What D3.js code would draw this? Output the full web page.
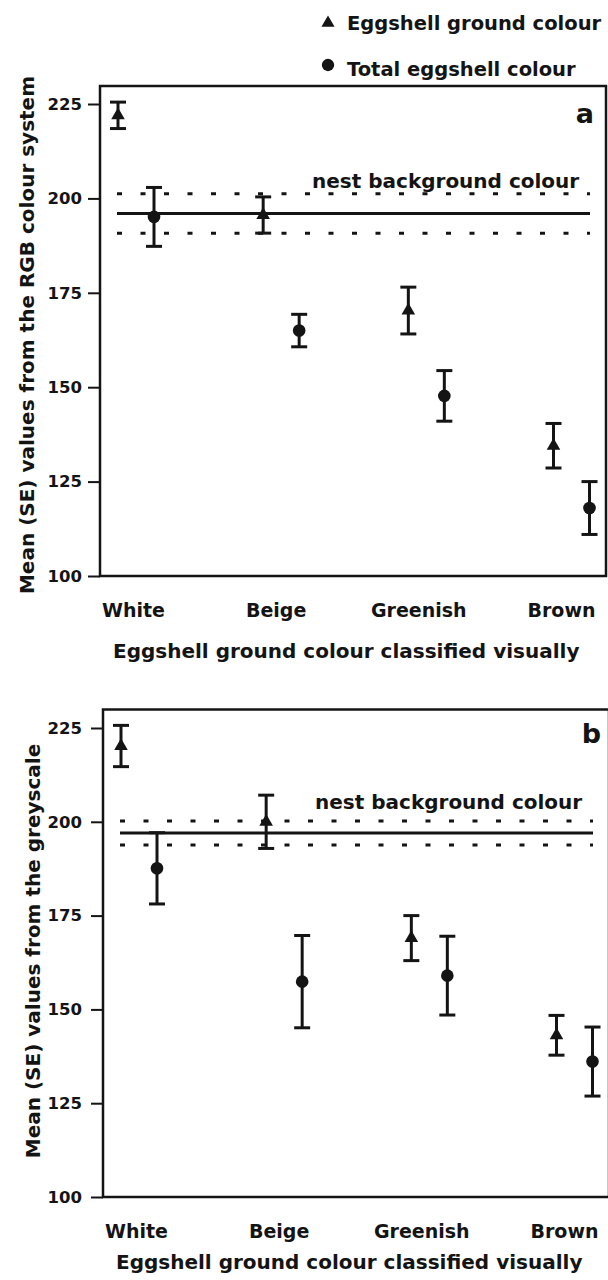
<!DOCTYPE html>
<html>
<head>
<meta charset="utf-8">
<script src="https://cdn.jsdelivr.net/npm/d3@7"></script>
<style>
  body { margin: 0; background: #fff; }
  svg { display: block; font-family: "DejaVu Sans", sans-serif; font-weight: bold; }
</style>
</head>
<body>
<svg id="chart" width="608" height="1280"></svg>
<script>
// categories on the x axis and the two series
const categories = ["White", "Beige", "Greenish", "Brown"];
const seriesKeys = ["ground", "total"];
const legendLabels = ["Eggshell ground colour", "Total eggshell colour"];
const yTicks = [100, 125, 150, 175, 200, 225];

// panel a : RGB colour system
const rgbGroundMean = [222.0, 195.6, 170.3, 134.5];
const rgbGroundSE   = [3.5, 4.8, 6.2, 5.9];
const rgbTotalMean  = [195.1, 165.0, 147.7, 118.0];
const rgbTotalSE    = [7.8, 4.3, 6.7, 7.0];
const rgbNestMean = 196.0;
const rgbNestSE   = 5.2;

// panel b : greyscale
const greyGroundMean = [220.2, 200.0, 169.0, 143.1];
const greyGroundSE   = [5.5, 7.1, 6.0, 5.3];
const greyTotalMean  = [187.6, 157.4, 159.0, 136.1];
const greyTotalSE    = [9.5, 12.3, 10.5, 9.2];
const greyNestMean = 197.0;
const greyNestSE   = 3.2;

const ink = "#141414";
const svg = d3.select("#chart");

// legend at the top right
const legend = svg.append("g").attr("class", "legend");
legend.selectAll("path").data(seriesKeys).enter().append("path")
  .attr("d", k => d3.symbol().type(k === "ground" ? d3.symbolTriangle : d3.symbolCircle)
                             .size(k === "ground" ? 75 : 120)())
  .attr("transform", (k, i) => "translate(328," + (i === 0 ? 23 : 65) + ")")
  .attr("fill", ink);
legend.selectAll("text").data(legendLabels).enter().append("text")
  .attr("x", 347)
  .attr("y", (d, i) => i === 0 ? 30 : 76)
  .style("font-size", "19.5px")
  .attr("fill", ink)
  .text(d => d);

function drawPanel(p) {
  let g = svg.append("g").attr("class", "panel-" + p.letter);

  let y = d3.scaleLinear().domain([100, 225]).range([p.bottom, p.y225]);
  // point positions of the categories, and the two series side by side
  let x = d3.scalePoint().domain(categories).range([p.left + 36, p.left + 471.5]);
  let offset = d3.scalePoint().domain(seriesKeys).range([-18, 18]);
  // category labels sit a little left of the markers
  let xLabel = d3.scalePoint().domain(categories).range([p.left + 33, p.left + 461]);

  let rows = [];
  categories.forEach(function(c, i) {
    rows.push({cat: c, key: "ground", mean: p.groundMean[i], se: p.groundSE[i]});
    rows.push({cat: c, key: "total",  mean: p.totalMean[i],  se: p.totalSE[i]});
  });

  // frame
  g.append("rect")
    .attr("x", p.left).attr("y", p.top)
    .attr("width", p.width).attr("height", p.bottom - p.top)
    .attr("fill", "none").attr("stroke", ink).attr("stroke-width", 2.5);

  // y axis
  let yAxis = g.append("g")
    .attr("transform", "translate(" + p.left + ",0)")
    .call(d3.axisLeft(y).tickValues(yTicks).tickSize(12).tickPadding(p.tickPad));
  yAxis.select(".domain").remove();
  yAxis.selectAll(".tick line").attr("stroke", ink).attr("stroke-width", 2);
  yAxis.selectAll(".tick text")
    .style("font-size", "16.5px").style("font-family", "'DejaVu Sans'").style("font-weight", "bold")
    .attr("fill", ink);

  // x axis labels
  let xAxis = g.append("g")
    .attr("transform", "translate(0," + p.bottom + ")")
    .call(d3.axisBottom(xLabel).tickSize(0).tickPadding(28));
  xAxis.select(".domain").remove();
  xAxis.selectAll(".tick text")
    .style("font-size", "19px").style("font-family", "'DejaVu Sans'").style("font-weight", "bold")
    .attr("fill", ink);

  g.append("text")
    .attr("x", p.left + p.xTitleShift)
    .attr("y", p.xTitleY)
    .style("font-size", "20px")
    .attr("fill", ink)
    .text("Eggshell ground colour classified visually");

  g.append("text")
    .attr("transform", "translate(" + p.yTitleX + "," + p.yTitleMid + ") rotate(-90)")
    .attr("text-anchor", "middle")
    .style("font-size", "20px")
    .attr("fill", ink)
    .text(p.yTitle);

  // panel letter
  g.append("text")
    .attr("x", p.letterX).attr("y", p.letterY)
    .attr("text-anchor", "end")
    .style("font-size", "27px")
    .attr("fill", ink)
    .text(p.letter);

  // nest background colour: mean (solid) and +/- SE (dotted)
  let nx0 = p.left + 17, nx1 = p.left + 490;
  g.append("line")
    .attr("x1", nx0).attr("x2", nx1)
    .attr("y1", y(p.nestMean)).attr("y2", y(p.nestMean))
    .attr("stroke", ink).attr("stroke-width", 3);
  g.selectAll(".nest-se").data([p.nestMean + p.nestSE, p.nestMean - p.nestSE])
    .enter().append("line")
    .attr("class", "nest-se")
    .attr("x1", nx0).attr("x2", nx1)
    .attr("y1", d => y(d)).attr("y2", d => y(d))
    .attr("stroke", ink).attr("stroke-width", 3)
    .attr("stroke-dasharray", "5,18.5");
  g.append("text")
    .attr("x", p.left + p.nestLabelShift)
    .attr("y", y(p.nestMean + p.nestSE) - p.nestLabelGap)
    .style("font-size", "20px")
    .attr("fill", ink)
    .text("nest background colour");

  // error bars
  let bars = g.selectAll(".err").data(rows).enter().append("g").attr("class", "err")
    .attr("stroke", ink).attr("stroke-width", 3);
  bars.append("line")
    .attr("x1", d => x(d.cat) + offset(d.key)).attr("x2", d => x(d.cat) + offset(d.key))
    .attr("y1", d => y(d.mean - d.se)).attr("y2", d => y(d.mean + d.se));
  bars.append("line")
    .attr("x1", d => x(d.cat) + offset(d.key) - 8).attr("x2", d => x(d.cat) + offset(d.key) + 8)
    .attr("y1", d => y(d.mean + d.se)).attr("y2", d => y(d.mean + d.se));
  bars.append("line")
    .attr("x1", d => x(d.cat) + offset(d.key) - 8).attr("x2", d => x(d.cat) + offset(d.key) + 8)
    .attr("y1", d => y(d.mean - d.se)).attr("y2", d => y(d.mean - d.se));

  // means
  g.selectAll(".mean").data(rows).enter().append("path")
    .attr("class", "mean")
    .attr("d", d => d3.symbol().type(d.key === "ground" ? d3.symbolTriangle : d3.symbolCircle)
                               .size(d.key === "ground" ? 80 : 125)())
    .attr("transform", d => "translate(" + (x(d.cat) + offset(d.key)) + "," + y(d.mean) + ")")
    .attr("fill", ink);
}

drawPanel({
  letter: "a", left: 100, width: 506, top: 86, bottom: 576, y225: 104, tickPad: 6,
  groundMean: rgbGroundMean, groundSE: rgbGroundSE,
  totalMean: rgbTotalMean, totalSE: rgbTotalSE,
  nestMean: rgbNestMean, nestSE: rgbNestSE,
  nestLabelShift: 212, nestLabelGap: 6,
  xTitleShift: 13, xTitleY: 658,
  yTitle: "Mean (SE) values from the RGB colour system", yTitleX: 34, yTitleMid: 335,
  letterX: 594, letterY: 123
});

drawPanel({
  letter: "b", left: 103, width: 506, top: 709.5, bottom: 1197, y225: 728, tickPad: 9,
  groundMean: greyGroundMean, groundSE: greyGroundSE,
  totalMean: greyTotalMean, totalSE: greyTotalSE,
  nestMean: greyNestMean, nestSE: greyNestSE,
  nestLabelShift: 212, nestLabelGap: 12,
  xTitleShift: 13, xTitleY: 1269,
  yTitle: "Mean (SE) values from the greyscale", yTitleX: 40, yTitleMid: 951,
  letterX: 601, letterY: 743
});
</script>
</body>
</html>
